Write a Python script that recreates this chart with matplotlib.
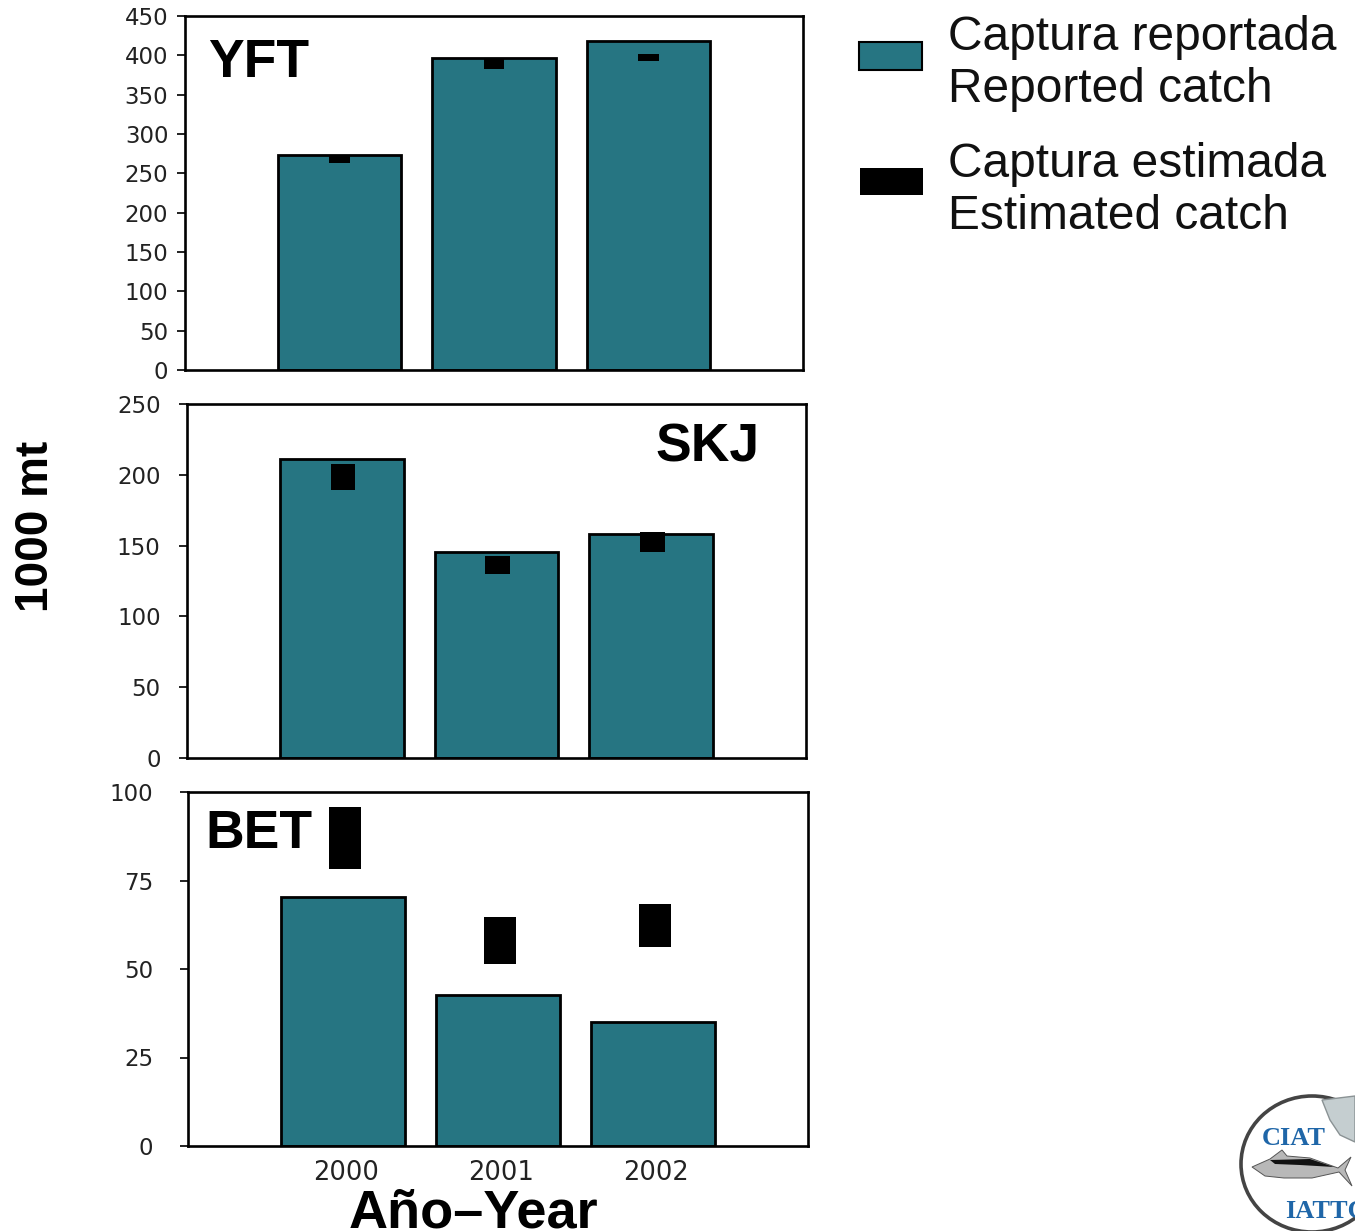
import matplotlib
matplotlib.use("Agg")
import matplotlib.pyplot as plt
from matplotlib.patches import Ellipse, Polygon, Rectangle
from matplotlib.transforms import ScaledTranslation

W, H = 1355, 1231
TEAL = "#267582"
BLUE = "#1f66a8"

years = [2000, 2001, 2002]

yft_reported = [273, 397, 418]
yft_est_low = [263, 383, 393]
yft_est_high = [273, 397, 402]
yft_ticks = [0, 50, 100, 150, 200, 250, 300, 350, 400, 450]

skj_reported = [211, 145.5, 158]
skj_est_low = [189, 130, 145.5]
skj_est_high = [207.5, 142.5, 159.5]
skj_ticks = [0, 50, 100, 150, 200, 250]

bet_reported = [70.3, 42.7, 35]
bet_est_low = [78.2, 51.4, 56.2]
bet_est_high = [95.8, 64.7, 68.4]
bet_ticks = [0, 25, 50, 75, 100]

plt.rcParams["font.family"] = ["Liberation Sans", "DejaVu Sans"]

fig = plt.figure(figsize=(W / 100, H / 100), dpi=100)


def add_panel(box, ticks, reported, low, high, est_width, est_shift, pad, name, name_xy):
    # box is left, top, right, bottom in pixels of the picture
    left, top, right, bottom = box
    ax = fig.add_axes([left / W, 1 - bottom / H, (right - left) / W, (bottom - top) / H])
    ax.bar(years, reported, width=0.8, color=TEAL, edgecolor="black", linewidth=2.0, zorder=2)
    heights = [h - l for h, l in zip(high, low)]
    shifted = [y + est_shift for y in years]
    ax.bar(shifted, heights, bottom=low, width=est_width, color="black", linewidth=0, zorder=3)
    ax.set_xlim(1999, 2003)
    ax.set_ylim(ticks[0], ticks[-1])
    ax.set_yticks(ticks)
    ax.set_xticks([])
    ax.tick_params(axis="y", length=6, width=1.4, pad=pad, labelsize=16.5, colors="#222222")
    ax.tick_params(axis="y", color="#222222")
    for lab in ax.get_yticklabels():
        lab.set_family("DejaVu Sans")
    for spine in ax.spines.values():
        spine.set_linewidth(1.9)
    fig.text(name_xy[0] / W, 1 - name_xy[1] / H, name, fontsize=38.5, fontweight="bold", va="baseline")
    return ax


add_panel((185, 16, 803, 370), yft_ticks, yft_reported, yft_est_low, yft_est_high, 0.135, 0.0, 6, "YFT", (208, 77))
add_panel((187, 404, 806, 758), skj_ticks, skj_reported, skj_est_low, skj_est_high, 0.16, 0.008, 13, "SKJ", (655, 461))
ax_bet = add_panel((188, 792, 808, 1146), bet_ticks, bet_reported, bet_est_low, bet_est_high, 0.205, 0.012, 19, "BET", (205, 848))
ax_bet.set_xticks(years)
ax_bet.tick_params(axis="x", length=0, pad=10, labelsize=18.5, colors="#222222")
nudge = ScaledTranslation(3 / 100, 0, fig.dpi_scale_trans)
for lab in ax_bet.get_xticklabels():
    lab.set_family("DejaVu Sans")
    lab.set_transform(lab.get_transform() + nudge)

fig.text(36 / W, 1 - 526 / H, "1000 mt", rotation=90, fontsize=33, fontweight="bold", ha="center", va="center")
fig.text(473 / W, 1 - 1228 / H, "Año–Year", fontsize=39, fontweight="bold", ha="center", va="baseline")

# overlay in pixel coordinates for the legend and the logo
over = fig.add_axes([0, 0, 1, 1], zorder=5)
over.set_xlim(0, W)
over.set_ylim(H, 0)
over.axis("off")

over.add_patch(Rectangle((859, 42), 63, 28, facecolor=TEAL, edgecolor="black", linewidth=1.5))
over.add_patch(Rectangle((860, 168), 63, 27, facecolor="black", edgecolor="none"))
for text, y in [("Captura reportada", 50), ("Reported catch", 102), ("Captura estimada", 177), ("Estimated catch", 229)]:
    over.text(948, y, text, fontsize=34.5, va="baseline", color="#111111")

# logo
over.add_patch(Ellipse((1312, 1164), 142, 136, facecolor="white", edgecolor="#444444", linewidth=2.6))
over.add_patch(Polygon([(1322, 1100), (1355, 1096), (1355, 1142), (1340, 1135), (1330, 1120)],
                       closed=True, facecolor="#c5ced0", edgecolor="#8a9294", linewidth=1))
over.text(1262, 1145, "CIAT", fontsize=19, fontweight="bold", family="Liberation Serif", color=BLUE, va="baseline")
over.text(1285, 1218, "IATTC", fontsize=19, fontweight="bold", family="Liberation Serif", color=BLUE, va="baseline")
over.add_patch(Polygon([(1252, 1167), (1270, 1159), (1282, 1150), (1287, 1156), (1310, 1158), (1338, 1168),
                        (1351, 1157), (1345, 1170), (1352, 1186), (1339, 1172), (1312, 1178), (1284, 1178), (1265, 1176)],
                       closed=True, facecolor="#b8b8b8", edgecolor="#555555", linewidth=0.7))
over.add_patch(Polygon([(1270, 1160), (1310, 1159), (1334, 1167), (1300, 1165), (1275, 1164)],
                       closed=True, facecolor="#111111", edgecolor="none"))

fig.savefig("out.png", dpi=100)
